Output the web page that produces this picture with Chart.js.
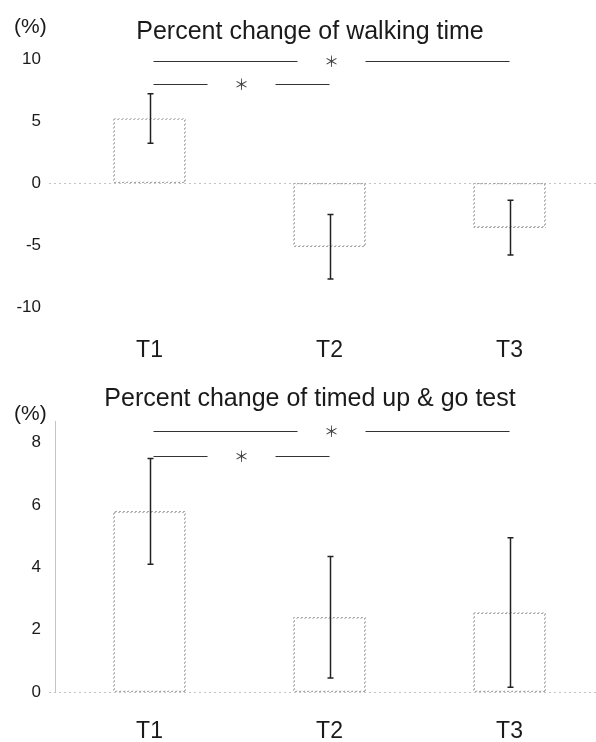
<!DOCTYPE html>
<html>
<head>
<meta charset="utf-8">
<script src="https://cdn.jsdelivr.net/npm/chart.js@4"></script>
<style>
  html, body { margin: 0; padding: 0; background: #fff; }
  canvas { display: block; }
</style>
</head>
<body>
<canvas id="walkChart" width="596" height="370"></canvas>
<canvas id="tugChart" width="596" height="372"></canvas>
<script>
// ----- DATA -----
const categories = ['T1', 'T2', 'T3'];
const catPos = [1, 2, 3];

const walkMean = [5.2, -5.15, -3.6];
const walkSD = [2.0, 2.6, 2.2];
const walkTicks = [-10, -5, 0, 5, 10];
// [from, to, level]
const walkSig = [[1, 3, 9.8], [1, 2, 8.0]];

const tugMean = [5.8, 2.4, 2.55];
const tugSD = [1.7, 1.95, 2.4];
const tugTicks = [0, 2, 4, 6, 8];
const tugSig = [[1, 3, 8.38], [1, 2, 7.58]];

// dotted gray pattern for the faint bar outlines
function dotPattern() {
  const c = document.createElement('canvas');
  c.width = 4; c.height = 4;
  const g = c.getContext('2d');
  g.fillStyle = '#a8a8a8';
  for (let i = 0; i < 4; i++) {
    for (let j = 0; j < 4; j++) {
      if ((i + j) % 4 < 2) g.fillRect(i, j, 1, 1);
    }
  }
  return c.getContext('2d').createPattern(c, 'repeat');
}

function makeExtras(mean, sd, sig, title, titleY, unitY) {
  return {
    id: 'extras',
    beforeDatasetsDraw(chart) {
      const { ctx, chartArea, scales: { y } } = chart;
      const y0 = Math.round(y.getPixelForValue(0)) + 0.5;
      ctx.save();
      ctx.strokeStyle = '#c4c4c4';
      ctx.lineWidth = 1;
      ctx.setLineDash([2, 3]);
      ctx.beginPath();
      ctx.moveTo(chartArea.left - 6, y0);
      ctx.lineTo(chartArea.right + 6, y0);
      ctx.stroke();
      ctx.restore();
    },
    afterDatasetsDraw(chart) {
      const { ctx, scales: { x, y } } = chart;
      ctx.save();

      // error bars
      ctx.strokeStyle = '#222';
      ctx.lineWidth = 1.5;
      mean.forEach((m, i) => {
        const px = Math.round(x.getPixelForValue(catPos[i])) + 0.5;
        const top = y.getPixelForValue(m + sd[i]);
        const bot = y.getPixelForValue(m - sd[i]);
        ctx.beginPath();
        ctx.moveTo(px, top); ctx.lineTo(px, bot);
        ctx.moveTo(px - 3, top); ctx.lineTo(px + 3, top);
        ctx.moveTo(px - 3, bot); ctx.lineTo(px + 3, bot);
        ctx.stroke();
      });

      // significance brackets
      ctx.strokeStyle = '#333';
      ctx.lineWidth = 1.2;
      ctx.fillStyle = '#444';
      ctx.font = '15px "Noto Sans CJK JP"';
      ctx.textAlign = 'center';
      ctx.textBaseline = 'middle';
      sig.forEach(([a, b, lvl]) => {
        const xa = x.getPixelForValue(a) + 4;
        const xb = x.getPixelForValue(b);
        const mid = (xa + xb) / 2;
        const py = Math.round(y.getPixelForValue(lvl)) + 0.5;
        ctx.beginPath();
        ctx.moveTo(xa, py); ctx.lineTo(mid - 34, py);
        ctx.moveTo(mid + 34, py); ctx.lineTo(xb, py);
        ctx.stroke();
        ctx.fillText('＊', mid, py);
      });

      // title and unit
      ctx.fillStyle = '#1a1a1a';
      ctx.font = '25px "Liberation Sans"';
      ctx.fillText(title, 310, titleY);
      ctx.font = '21px "Liberation Sans"';
      ctx.textAlign = 'left';
      ctx.fillText('(%)', 14, unitY);
      ctx.restore();
    }
  };
}

function makeChart(id, mean, sd, ticks, yMin, yMax, padTop, xHeight, xPad, yBorder, extras) {
  new Chart(document.getElementById(id), {
    type: 'bar',
    data: {
      datasets: [{
        data: catPos.map((c, i) => ({ x: c, y: mean[i] })),
        backgroundColor: 'rgba(0,0,0,0)',
        borderColor: dotPattern(),
        borderWidth: 1,
        borderSkipped: false,
        barThickness: 72
      }]
    },
    options: {
      responsive: false,
      animation: false,
      layout: { padding: { top: padTop, right: 6, left: 0, bottom: 0 } },
      plugins: {
        legend: { display: false },
        tooltip: { enabled: false },
        title: { display: false }
      },
      scales: {
        x: {
          type: 'linear',
          offset: false,
          min: 0.475,
          max: 3.447,
          grid: { display: false, drawTicks: false, offset: false },
          border: { display: false },
          afterBuildTicks: s => { s.ticks = catPos.map(v => ({ value: v })); },
          afterFit: s => { s.height = xHeight; },
          ticks: {
            padding: xPad,
            font: { family: 'Liberation Sans', size: 23 },
            color: '#1a1a1a',
            callback: (v, i) => categories[i]
          }
        },
        y: {
          min: yMin,
          max: yMax,
          grid: { display: false, drawTicks: false },
          border: { display: yBorder, color: '#c4c4c4', dash: [2, 3] },
          afterBuildTicks: s => { s.ticks = ticks.map(v => ({ value: v })); },
          afterFit: s => { s.width = 55; },
          ticks: {
            padding: 14,
            font: { family: 'Liberation Sans', size: 17 },
            color: '#1a1a1a'
          }
        }
      }
    },
    plugins: [extras]
  });
}

makeChart('walkChart', walkMean, walkSD, walkTicks, -10, 10, 59, 63, 30, false,
  makeExtras(walkMean, walkSD, walkSig, 'Percent change of walking time', 32, 27));

makeChart('tugChart', tugMean, tugSD, tugTicks, 0, 8.7, 51, 50, 26, true,
  makeExtras(tugMean, tugSD, tugSig, 'Percent change of timed up & go test', 29, 44));
</script>
</body>
</html>
